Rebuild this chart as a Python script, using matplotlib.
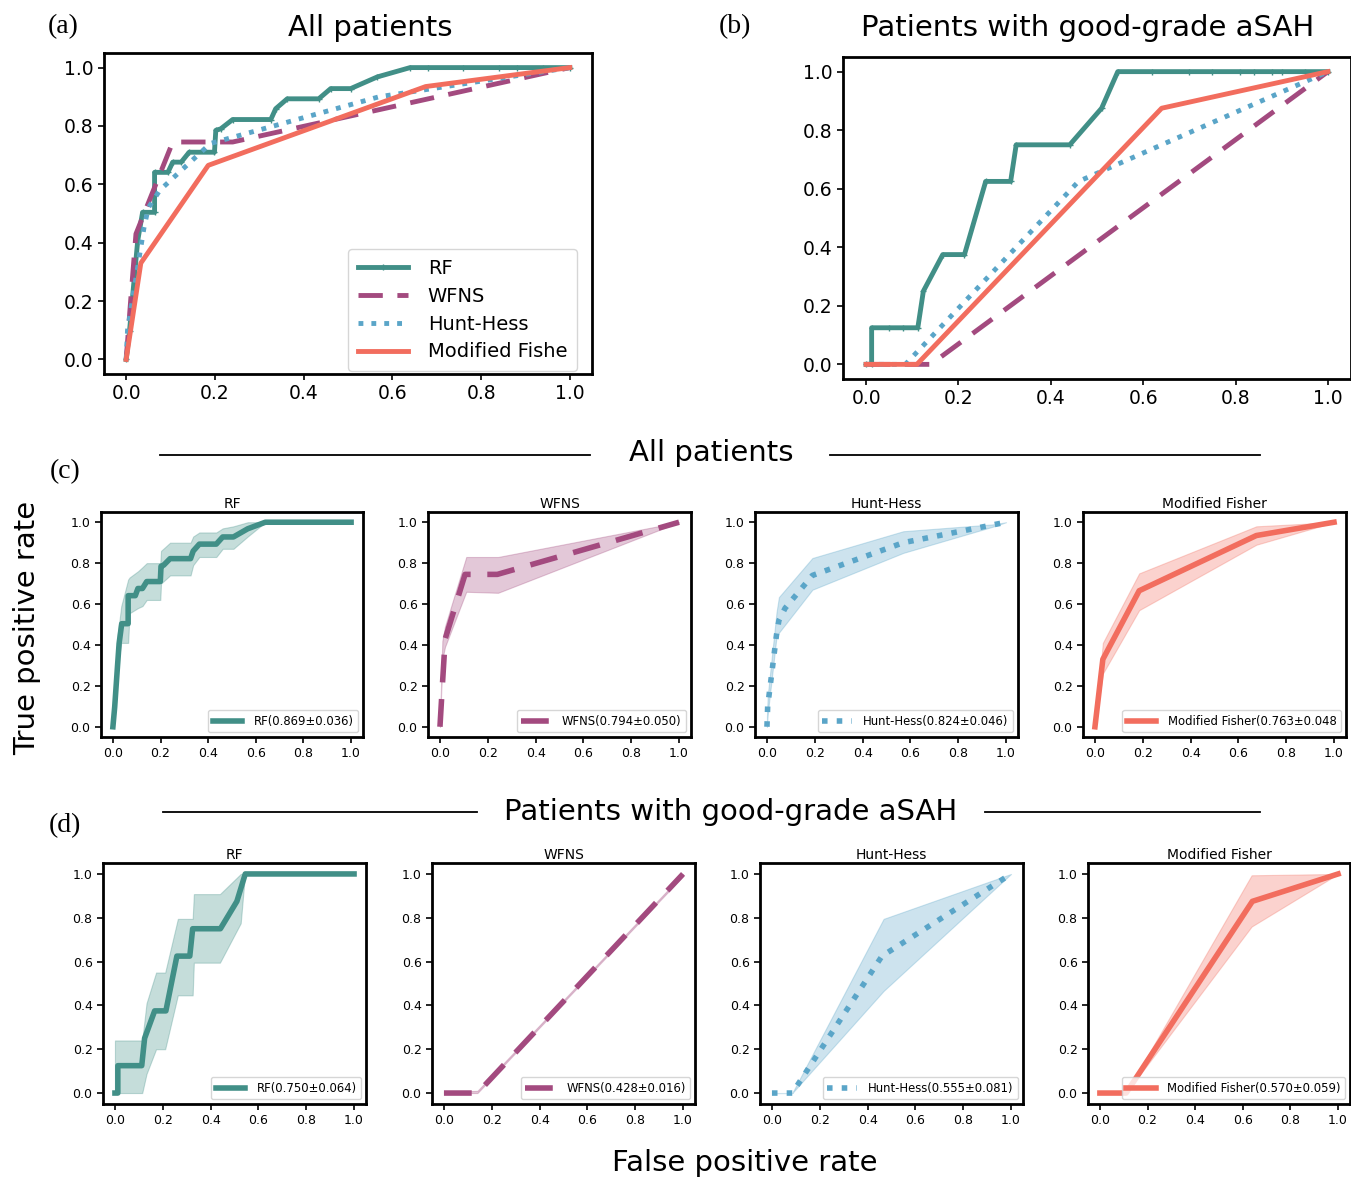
import matplotlib
matplotlib.use("Agg")
import matplotlib.pyplot as plt
from matplotlib.lines import Line2D

# colours of the four predictors
c_rf = '#418f87'
c_wf = '#a34a7f'
c_hh = '#5aa5c8'
c_mf = '#f26d5e'

# ---------------- all patients, mean ROC ----------------
rf_all_fpr = [0, 0.0075, 0.019, 0.026, 0.037, 0.064, 0.064, 0.094, 0.105, 0.124, 0.142, 0.199,
              0.202, 0.213, 0.240, 0.326, 0.337, 0.363, 0.434, 0.461, 0.506, 0.566, 0.640,
              0.68, 0.76, 0.84, 0.88, 0.94, 1.0]
rf_all_tpr = [0, 0.097, 0.292, 0.407, 0.504, 0.504, 0.641, 0.641, 0.676, 0.676, 0.710, 0.710,
              0.785, 0.790, 0.822, 0.822, 0.859, 0.893, 0.893, 0.928, 0.928, 0.968, 1.0,
              1.0, 1.0, 1.0, 1.0, 1.0, 1.0]
wf_all_fpr = [0, 0.01, 0.022, 0.105, 0.24, 1.0]
wf_all_tpr = [0, 0.2, 0.43, 0.745, 0.745, 1.0]
hh_all_fpr = [0, 0.003, 0.04, 0.05, 0.076, 0.19, 0.57, 1.0]
hh_all_tpr = [0, 0.1, 0.45, 0.52, 0.58, 0.74, 0.9, 1.0]
mf_all_fpr = [0, 0.033, 0.185, 0.675, 1.0]
mf_all_tpr = [0, 0.33, 0.665, 0.935, 1.0]

# std bands, all patients
rf_all_bx = [0, 0.02, 0.035, 0.064, 0.07, 0.105, 0.124, 0.142, 0.199, 0.202, 0.24, 0.326,
             0.337, 0.363, 0.434, 0.461, 0.506, 0.566, 0.64, 1.0]
rf_all_hi = [0.05, 0.45, 0.59, 0.72, 0.73, 0.76, 0.78, 0.80, 0.80, 0.86, 0.90, 0.90,
             0.93, 0.95, 0.95, 0.97, 0.98, 1.0, 1.0, 1.0]
rf_all_lo = [0.0, 0.30, 0.41, 0.41, 0.555, 0.58, 0.59, 0.62, 0.62, 0.70, 0.74, 0.74,
             0.79, 0.83, 0.83, 0.87, 0.87, 0.93, 1.0, 1.0]
wf_all_bx = [0, 0.01, 0.021, 0.11, 0.243, 1.0]
wf_all_hi = [0.02, 0.42, 0.49, 0.83, 0.83, 1.0]
wf_all_lo = [0.0, 0.33, 0.39, 0.66, 0.655, 1.0]
hh_all_bx = [0, 0.003, 0.04, 0.05, 0.19, 0.57, 0.95, 1.0]
hh_all_hi = [0.05, 0.15, 0.56, 0.634, 0.825, 0.956, 0.99, 1.0]
hh_all_lo = [0.0, 0.06, 0.44, 0.46, 0.67, 0.85, 0.98, 1.0]
mf_all_bx = [0, 0.033, 0.185, 0.675, 1.0]
mf_all_hi = [0, 0.41, 0.75, 0.98, 1.0]
mf_all_lo = [0, 0.26, 0.57, 0.89, 1.0]

# ---------------- good-grade aSAH, mean ROC ----------------
rf_gg_fpr = [0, 0.012, 0.012, 0.05, 0.08, 0.112, 0.124, 0.166, 0.213, 0.259, 0.313, 0.325,
             0.441, 0.51, 0.545, 0.62, 0.7, 0.75, 0.81, 0.84, 0.88, 0.9, 0.95, 1.0]
rf_gg_tpr = [0, 0, 0.125, 0.125, 0.125, 0.125, 0.25, 0.375, 0.375, 0.625, 0.625, 0.75,
             0.75, 0.875, 1.0, 1.0, 1.0, 1.0, 1.0, 1.0, 1.0, 1.0, 1.0, 1.0]
wf_gg_fpr = [0, 0.14, 1.0]
wf_gg_tpr = [0, 0, 1.0]
hh_gg_fpr = [0, 0.085, 0.46, 1.0]
hh_gg_tpr = [0, 0, 0.625, 1.0]
mf_gg_fpr = [0, 0.11, 0.64, 1.0]
mf_gg_tpr = [0, 0, 0.875, 1.0]

rf_gg_bx = [0, 0.114, 0.132, 0.172, 0.21, 0.263, 0.325, 0.33, 0.439, 0.526, 0.544, 1.0]
rf_gg_hi = [0.24, 0.24, 0.41, 0.55, 0.55, 0.795, 0.795, 0.908, 0.908, 1.0, 1.0, 1.0]
rf_gg_lo = [0.0, 0.0, 0.087, 0.2, 0.2, 0.446, 0.446, 0.595, 0.595, 0.775, 1.0, 1.0]
wf_gg_bx = [0, 0.14, 1.0]
wf_gg_hi = [0.005, 0.01, 1.0]
wf_gg_lo = [0.0, 0.0, 0.99]
hh_gg_bx = [0, 0.085, 0.467, 1.0]
hh_gg_hi = [0.0, 0.0, 0.795, 1.0]
hh_gg_lo = [0.0, 0.0, 0.466, 1.0]
mf_gg_bx = [0, 0.11, 0.637, 1.0]
mf_gg_hi = [0, 0, 0.994, 1.0]
mf_gg_lo = [0, 0, 0.76, 1.0]

names = ['RF', 'WFNS', 'Hunt-Hess', 'Modified Fisher']
legend_a = ['RF', 'WFNS', 'Hunt-Hess', 'Modified Fishe']
auc_all = ['RF(0.869±0.036)', 'WFNS(0.794±0.050)', 'Hunt-Hess(0.824±0.046)', 'Modified Fisher(0.763±0.048']
auc_gg = ['RF(0.750±0.064)', 'WFNS(0.428±0.016)', 'Hunt-Hess(0.555±0.081)', 'Modified Fisher(0.570±0.059)']

colors = [c_rf, c_wf, c_hh, c_mf]
styles = ['-', (0, (5, 3)), ':', '-']

W, H = 1351, 1180
fig = plt.figure(figsize=(W / 100, H / 100), dpi=100)


def px_axes(l, t, r, b):
    return fig.add_axes([l / W, (H - b) / H, (r - l) / W, (b - t) / H])


def style_ax(ax, fs, lw):
    for s in ax.spines.values():
        s.set_linewidth(lw)
    ax.set_xticks([0, 0.2, 0.4, 0.6, 0.8, 1.0])
    ax.set_yticks([0, 0.2, 0.4, 0.6, 0.8, 1.0])
    ax.tick_params(labelsize=fs, width=1.2, length=4)
    ax.set_xlim(-0.05, 1.05)
    ax.set_ylim(-0.05, 1.05)


# (a) and (b)
big_sets = [
    (px_axes(104, 53, 592, 374),
     [(rf_all_fpr, rf_all_tpr), (wf_all_fpr, wf_all_tpr), (hh_all_fpr, hh_all_tpr), (mf_all_fpr, mf_all_tpr)],
     True),
    (px_axes(843, 57, 1351, 379),
     [(rf_gg_fpr, rf_gg_tpr), (wf_gg_fpr, wf_gg_tpr), (hh_gg_fpr, hh_gg_tpr), (mf_gg_fpr, mf_gg_tpr)],
     False),
]
for ax, curves, leg in big_sets:
    for i, (x, y) in enumerate(curves):
        if i == 0:
            ax.plot(x, y, color=colors[i], lw=3.5, marker='+', ms=4, mew=1, label=legend_a[i])
        else:
            ax.plot(x, y, color=colors[i], lw=3.5, ls=styles[i], label=legend_a[i])
    style_ax(ax, 13.5, 2)
    if leg:
        ax.legend(loc='lower right', fontsize=14, handlelength=2.6, borderpad=0.5,
                  labelspacing=0.45, handletextpad=1.0, bbox_to_anchor=(0.975, 0.0),
                  borderaxespad=0.15)

# rows (c) and (d)
row_c = [px_axes(101, 512, 363, 737), px_axes(428, 512, 691, 737),
         px_axes(755, 512, 1018, 737), px_axes(1083, 512, 1346, 737)]
row_d = [px_axes(103, 863, 366, 1104), px_axes(432, 863, 695, 1104),
         px_axes(760, 863, 1023, 1104), px_axes(1088, 863, 1350, 1104)]

c_mean = [(rf_all_fpr, rf_all_tpr), (wf_all_fpr, wf_all_tpr), (hh_all_fpr, hh_all_tpr), (mf_all_fpr, mf_all_tpr)]
c_band = [(rf_all_bx, rf_all_lo, rf_all_hi), (wf_all_bx, wf_all_lo, wf_all_hi),
          (hh_all_bx, hh_all_lo, hh_all_hi), (mf_all_bx, mf_all_lo, mf_all_hi)]
d_mean = [(rf_gg_fpr, rf_gg_tpr), (wf_gg_fpr, wf_gg_tpr), (hh_gg_fpr, hh_gg_tpr), (mf_gg_fpr, mf_gg_tpr)]
d_band = [(rf_gg_bx, rf_gg_lo, rf_gg_hi), (wf_gg_bx, wf_gg_lo, wf_gg_hi),
          (hh_gg_bx, hh_gg_lo, hh_gg_hi), (mf_gg_bx, mf_gg_lo, mf_gg_hi)]

for axes, means, bands, labels in [(row_c, c_mean, c_band, auc_all), (row_d, d_mean, d_band, auc_gg)]:
    for i, ax in enumerate(axes):
        bx, lo, hi = bands[i]
        ax.fill_between(bx, lo, hi, color=colors[i], alpha=0.3, lw=0.8)
        x, y = means[i]
        ax.plot(x, y, color=colors[i], lw=4, ls=styles[i], label=labels[i])
        style_ax(ax, 9, 2)
        ax.set_title(names[i], fontsize=10, pad=3)
        ax.legend(loc='lower right', fontsize=8.4, handlelength=2.5, borderpad=0.4,
                  handletextpad=1.0, borderaxespad=0.4)

# panel letters and headings
serif = 'Liberation Serif'
fig.text(63 / W, 1 - 27 / H, '(a)', fontsize=20, family=serif, ha='center', va='center')
fig.text(735 / W, 1 - 27 / H, '(b)', fontsize=20, family=serif, ha='center', va='center')
fig.text(65 / W, 1 - 472 / H, '(c)', fontsize=20, family=serif, ha='center', va='center')
fig.text(65 / W, 1 - 826 / H, '(d)', fontsize=20, family=serif, ha='center', va='center')

fig.text(370 / W, 1 - 28 / H, 'All patients', fontsize=21, ha='center', va='center')
fig.text(1088 / W, 1 - 28 / H, 'Patients with good-grade aSAH', fontsize=21, ha='center', va='center')
fig.text(711 / W, 1 - 453 / H, 'All patients', fontsize=21, ha='center', va='center')
fig.text(731 / W, 1 - 812 / H, 'Patients with good-grade aSAH', fontsize=21, ha='center', va='center')

for x0, x1, yy in [(160, 590, 455), (830, 1260, 455), (163, 477, 812), (985, 1260, 812)]:
    fig.add_artist(Line2D([x0 / W, x1 / W], [1 - yy / H, 1 - yy / H], color='black', lw=1.3))

fig.text(27 / W, 1 - 628 / H, 'True positive rate', fontsize=21, rotation=90, ha='center', va='center')
fig.text(745 / W, 1 - 1163 / H, 'False positive rate', fontsize=21, ha='center', va='center')

fig.savefig('out.png', dpi=100)
